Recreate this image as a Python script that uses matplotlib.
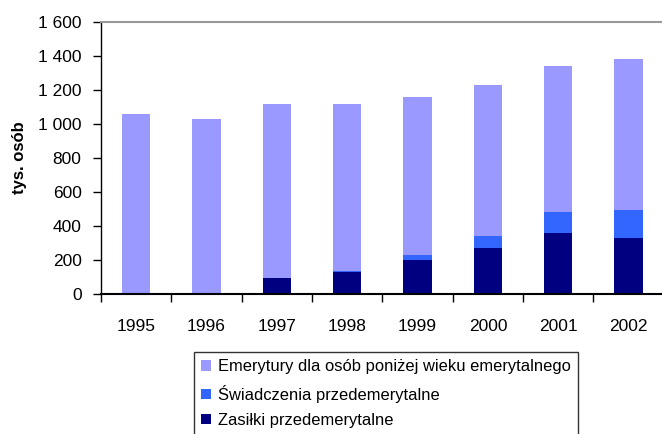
import numpy as np
import matplotlib
matplotlib.use("Agg")
import matplotlib.pyplot as plt
from matplotlib.ticker import FuncFormatter

plt.rcParams['font.family'] = ['Liberation Sans', 'DejaVu Sans']

lata = ["1995", "1996", "1997", "1998", "1999", "2000", "2001", "2002"]
zasilki = [0, 0, 96, 131, 200, 270, 358, 329]
swiadczenia = [0, 0, 0, 4, 29, 71, 124, 165]
emerytury = [1058, 1028, 1021, 982, 929, 887, 858, 887]

labels = ["Emerytury dla osób poniżej wieku emerytalnego",
          "Świadczenia przedemerytalne",
          "Zasiłki przedemerytalne"]
colors = ["#9999FF", "#3366FF", "#000080"]

fig = plt.figure(figsize=(6.62, 4.34), dpi=100)
ax = fig.add_axes([0.1526, 0.3226, 0.85, 0.6274])

x = np.arange(len(lata))
w = 0.4
b1 = ax.bar(x, zasilki, w, color=colors[2], label=labels[2])
b2 = ax.bar(x, swiadczenia, w, bottom=zasilki, color=colors[1], label=labels[1])
bottom2 = np.array(zasilki) + np.array(swiadczenia)
b3 = ax.bar(x, emerytury, w, bottom=bottom2, color=colors[0], label=labels[0])

ax.set_xlim(-0.5, len(lata) - 0.5)
ax.set_ylim(0, 1600)
ax.set_yticks(range(0, 1601, 200))
ax.yaxis.set_major_formatter(FuncFormatter(lambda v, p: f"{int(v):,}".replace(",", " ")))

ax.set_xticks(x)
ax.set_xticklabels(lata)
ax.set_xticks(np.arange(-0.5, len(lata), 1), minor=True)
ax.tick_params(axis='x', which='major', length=0, pad=18, labelsize=12.5)
ax.tick_params(axis='x', which='minor', length=6, width=1, direction='out')
ax.tick_params(axis='y', length=6, width=1, direction='out', labelsize=12.5, pad=8)

ax.spines['top'].set_color('#999999')
ax.spines['top'].set_linewidth(1.5)
ax.spines['right'].set_visible(False)
ax.spines['left'].set_linewidth(1)
ax.spines['bottom'].set_linewidth(1.5)

ax.set_ylabel("tys. osób", fontsize=12, fontweight='bold', labelpad=8)

leg = fig.legend([b3, b2, b1], labels, loc='upper left',
                 bbox_to_anchor=(0.293, 0.189), frameon=True, fancybox=False,
                 fontsize=11.9, handlelength=0.6, handleheight=0.6,
                 handletextpad=0.4, labelspacing=0.62, borderaxespad=0,
                 borderpad=0.45)
leg.get_frame().set_edgecolor('black')
leg.get_frame().set_linewidth(1)

fig.savefig("out.png", dpi=100)
